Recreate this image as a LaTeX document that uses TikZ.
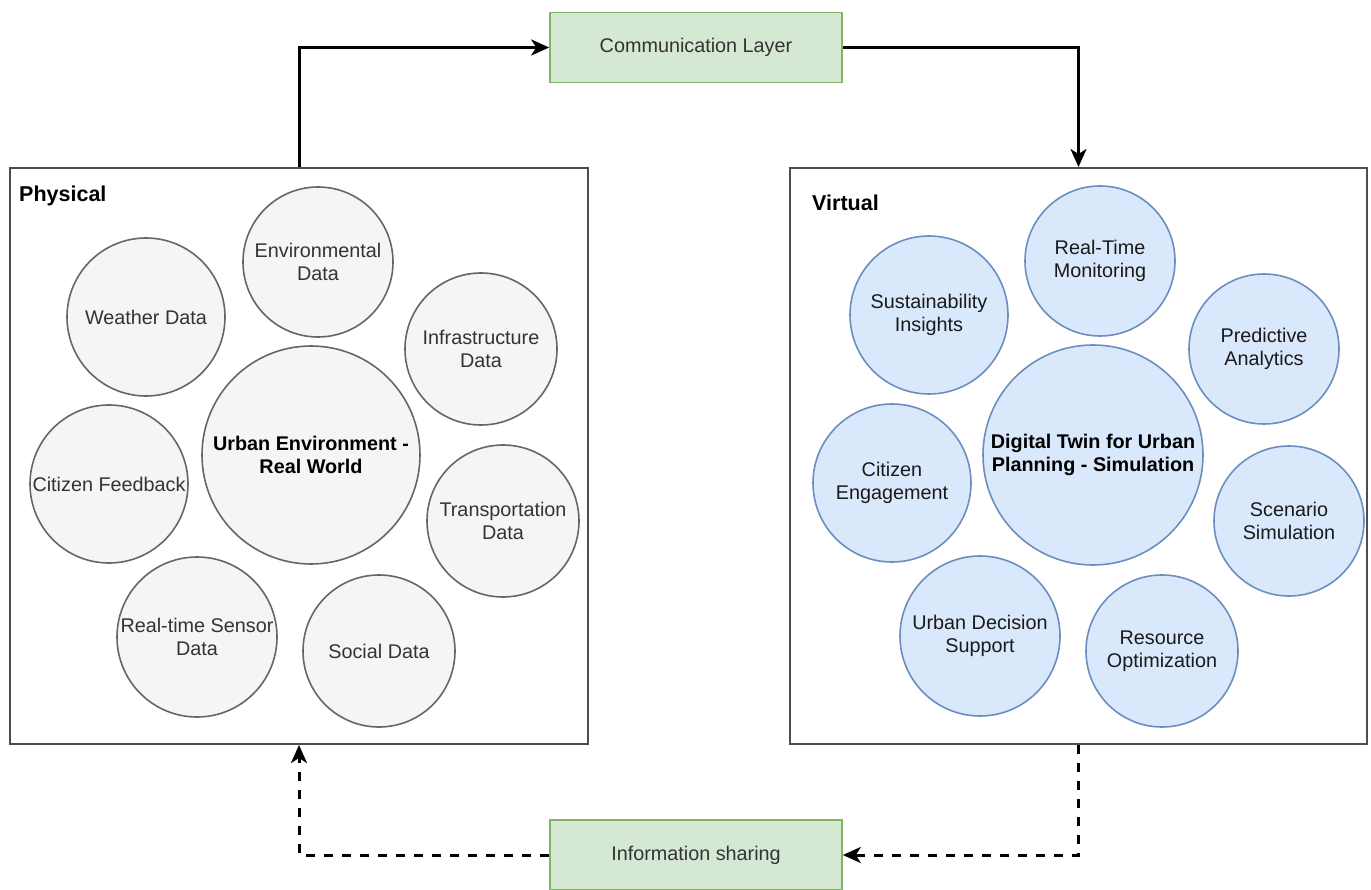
\documentclass[tikz,border=0pt]{standalone}
\usepackage{fontspec}
\setmainfont{Liberation Sans}
\usetikzlibrary{arrows.meta}
\definecolor{gfill}{HTML}{F5F5F5}
\definecolor{gline}{HTML}{666666}
\definecolor{gtext}{HTML}{333333}
\definecolor{bfill}{HTML}{DAE8FC}
\definecolor{bline}{HTML}{6C8EBF}
\definecolor{btext}{HTML}{1A1A1A}
\definecolor{grfill}{HTML}{D5E8D4}
\definecolor{grline}{HTML}{82B366}
\definecolor{boxline}{HTML}{4D4D4D}
\begin{document}
\begin{tikzpicture}[x=1pt,y=-1pt,
  txt/.style={font=\fontsize{19.8}{22.5}\selectfont},
  gcirc/.style={circle,draw=gline,fill=gfill,line width=1.6pt,inner sep=0pt,align=center,text=gtext,txt},
  bcirc/.style={circle,draw=bline,fill=bfill,line width=1.6pt,inner sep=0pt,align=center,text=btext,txt},
  bigtxt/.style={font=\fontsize{19.8}{22.5}\selectfont\bfseries,text=black},
  panel/.style={rectangle,draw=boxline,fill=white,line width=2pt,inner sep=0pt},
  layer/.style={rectangle,draw=grline,fill=grfill,line width=1.6pt,inner sep=0pt,text=gtext,txt,minimum width=292pt,minimum height=70pt},
  title/.style={font=\fontsize{21.5}{24}\selectfont\bfseries,text=black,inner sep=0pt,anchor=base west},
  solidarrow/.style={line width=3pt,black,-{Stealth[length=18pt,width=16pt,inset=5pt]}},
  dasharrow/.style={line width=3pt,black,dash pattern=on 9pt off 9pt,-{Stealth[length=18pt,width=16pt,inset=5pt]}}
]
\useasboundingbox (0,0) rectangle (1371,890);
\fill[white] (0,0) rectangle (1371,890);

% panels
\node[panel,minimum width=578pt,minimum height=576pt] (phys) at (299,456) {};
\node[panel,minimum width=577pt,minimum height=576pt] (virt) at (1078.5,456) {};
\node[title] (physt) at (19,202) {Physical};
\node[title] (virtt) at (812,211) {Virtual};

% layers
\node[layer] (comm) at (696,47.5) {Communication Layer};
\node[layer] (info) at (696,855) {Information sharing};

% physical circles
\node[gcirc,minimum size=150pt] (env) at (318,262) {Environmental\\Data};
\node[gcirc,minimum size=158pt] (weather) at (146,317) {Weather Data};
\node[gcirc,minimum size=152pt] (infra) at (481,349) {Infrastructure\\Data};
\node[gcirc,minimum size=218pt,bigtxt] (urban) at (311,455) {Urban Environment -\\Real World};
\node[gcirc,minimum size=158pt] (citfb) at (109,484) {Citizen Feedback};
\node[gcirc,minimum size=152pt] (transp) at (503,521) {Transportation\\Data};
\node[gcirc,minimum size=160pt] (sensor) at (197,637) {Real-time Sensor\\Data};
\node[gcirc,minimum size=152pt] (social) at (379,651) {Social Data};

% virtual circles
\node[bcirc,minimum size=150pt] (rtm) at (1100,261) {Real-Time\\Monitoring};
\node[bcirc,minimum size=158pt] (sust) at (929,315) {Sustainability\\Insights};
\node[bcirc,minimum size=150pt] (pred) at (1264,349) {Predictive\\Analytics};
\node[bcirc,minimum size=220pt,bigtxt] (dt) at (1093,455) {Digital Twin for Urban\\Planning - Simulation};
\node[bcirc,minimum size=158pt] (cite) at (892,483) {Citizen\\Engagement};
\node[bcirc,minimum size=150pt] (scen) at (1289,521) {Scenario\\Simulation};
\node[bcirc,minimum size=160pt] (uds) at (980,636) {Urban Decision\\Support};
\node[bcirc,minimum size=152pt] (res) at (1162,651) {Resource\\Optimization};

% connectors
\draw[solidarrow] (phys.north) |- (comm.west);
\draw[solidarrow] (comm.east) -| (virt.north);
\draw[dasharrow] (virt.south) |- (info.east);
\draw[dasharrow] (info.west) -| (phys.south);
\end{tikzpicture}
\end{document}
